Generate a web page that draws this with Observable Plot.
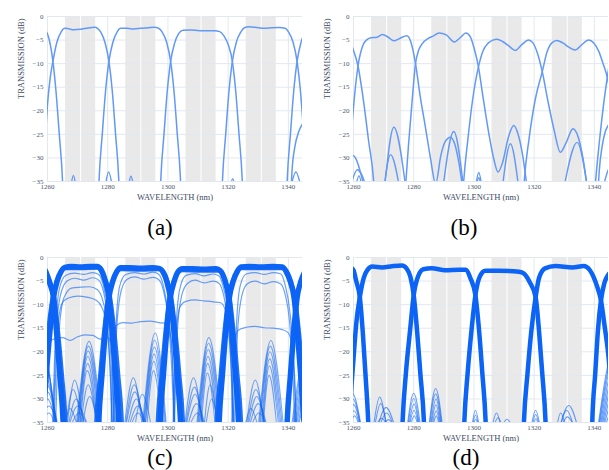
<!DOCTYPE html>
<html>
<head>
<meta charset="utf-8">
<script src="https://cdn.jsdelivr.net/npm/d3@7"></script>
<script src="https://cdn.jsdelivr.net/npm/@observablehq/plot@0.6"></script>
<style>
  html, body { margin: 0; padding: 0; background: #fff; }
  body { width: 609px; height: 470px; position: relative; overflow: hidden; font-family: "Liberation Serif", "DejaVu Serif", serif; }
  .panel { position: absolute; }
  .panel svg { display: block; }
  .cap { position: absolute; font-size: 23px; line-height: 1; color: #000; transform: translateX(-50%); white-space: nowrap; }
</style>
</head>
<body>
<div id="pa" class="panel" style="left:0px;top:0px"></div>
<div id="pb" class="panel" style="left:306px;top:0px"></div>
<div id="pc" class="panel" style="left:0px;top:241px"></div>
<div id="pd" class="panel" style="left:306px;top:241px"></div>
<div class="cap" style="left:160px;top:216px">(a)</div>
<div class="cap" style="left:464px;top:216px">(b)</div>
<div class="cap" style="left:160px;top:446px">(c)</div>
<div class="cap" style="left:466px;top:446px">(d)</div>
<script>
// ---------- axes / annotation data ----------
const xTicks = [1260, 1280, 1300, 1320, 1340];
const yTicks = [0, -5, -10, -15, -20, -25, -30, -35];
const bands = [[1266, 1276], [1286, 1296], [1306, 1316], [1326, 1336]];
const bandCenters = [1271, 1291, 1311, 1331];
const xLabel = "WAVELENGTH (nm)";
const yLabel = "TRANSMISSION (dB)";

// ---------- panel (a): [wavelength nm, transmission dB] ----------
const a_prev = [[1255,-2.3],[1257.5,-2.5],[1259.2,-3.0],[1260,-3.7],[1261,-6.2],[1261.8,-9.5],[1262.8,-15.7],[1263.9,-24.9],[1265,-35],[1265.4,-42]];
const a_ch1 = [[1258.3,-42],[1258.8,-33],[1260,-18.7],[1260.9,-13],[1261.8,-9.5],[1263.1,-5.5],[1264.5,-3.3],[1265.8,-2.5],[1267,-2.6],[1268.7,-2.8],[1271,-2.7],[1273.5,-2.45],[1275.7,-2.3],[1276.6,-2.5],[1277.7,-3.3],[1279.1,-5.5],[1280.4,-9.5],[1281.5,-15.7],[1282.6,-24.9],[1283.7,-35],[1284.1,-42]];
const a_ch2 = [[1276.7,-42],[1277.1,-35],[1278.2,-24.9],[1279.3,-15.7],[1280.4,-9.5],[1281.7,-5.5],[1283.1,-3.3],[1284.3,-2.5],[1286.5,-2.5],[1288.7,-2.65],[1291,-2.5],[1293.5,-2.4],[1295.5,-2.3],[1296.9,-2.5],[1298.1,-3.3],[1299.6,-5.5],[1300.9,-9.5],[1302,-15.7],[1303.1,-24.9],[1304.2,-35],[1304.6,-42]];
const a_ch3 = [[1297.2,-42],[1297.6,-35],[1298.7,-24.9],[1299.8,-15.7],[1300.9,-9.5],[1302.2,-5.7],[1303.6,-3.6],[1305,-2.9],[1307.5,-2.85],[1310.5,-3.0],[1313,-3.0],[1315.5,-3.0],[1317.2,-3.2],[1318.6,-4.1],[1320.1,-6.1],[1321.4,-9.5],[1322.5,-15.7],[1323.6,-24.9],[1324.7,-35],[1325.1,-42]];
const a_ch4 = [[1317.7,-42],[1318.1,-35],[1319.2,-24.9],[1320.3,-15.7],[1321.4,-9.5],[1322.7,-5.5],[1324.2,-3.3],[1325.4,-2.4],[1327,-2.2],[1329,-2.3],[1332,-2.5],[1334.5,-2.4],[1337,-2.35],[1338.9,-2.5],[1340.1,-3.3],[1341.6,-5.5],[1342.9,-9.5],[1344,-15.7],[1345.1,-24.9],[1346.2,-35]];
const a_next = [[1339.2,-42],[1339.6,-35],[1340.7,-24.9],[1341.8,-15.7],[1342.9,-9.5],[1344.2,-5.5],[1345.5,-3.3]];
const a_tail = [[1340.6,-42],[1341.2,-33],[1342.2,-27.5],[1343.4,-24.5],[1344.7,-22.8],[1346,-22]];
// side lobes: [start nm, peak nm, peak dB, end nm]
const a_lobes = [[1267.8,1268.6,-33.7,1269.4],[1279.2,1280.3,-33,1281.5],[1286.9,1287.7,-33.9,1288.6],[1320.8,1321.5,-34.4,1322.2],[1340.9,1342.5,-33,1344.1]];

// ---------- panel (b) ----------
const b_prev = [[1255,-3.8],[1257.5,-4.6],[1259,-5.6],[1260,-7.2],[1261.5,-10.5],[1263.3,-17.8],[1265,-26.3],[1266.7,-35],[1267.2,-40]];
const b_ch1 = [[1258.3,-40],[1259,-28],[1260,-19.3],[1261.5,-10.5],[1263.2,-6],[1264.5,-4.9],[1265.8,-4.5],[1267.8,-4.4],[1269.6,-3.8],[1271.5,-4.4],[1273.4,-5.15],[1275.5,-4.6],[1277.7,-4.1],[1279,-5.3],[1280.6,-10],[1282.2,-17.1],[1283.9,-23.5],[1285.5,-29.8],[1287.3,-35.5],[1289,-29.5],[1290.5,-26.5],[1292.2,-25.6],[1293.6,-27],[1295,-31],[1296.2,-36]];
const b_ch2 = [[1276.8,-40],[1277.4,-35],[1278.3,-27],[1279.4,-18.5],[1280.6,-10],[1281.6,-7.2],[1282.8,-5.8],[1284.7,-4.7],[1286.6,-4.1],[1288.4,-3.5],[1290.8,-3.9],[1293.5,-5.4],[1295.6,-4.4],[1297.3,-3.5],[1298.8,-4.3],[1300.1,-6.8],[1301.5,-10.7],[1303,-17],[1305,-25],[1306.7,-30.5],[1308,-33],[1309.5,-31],[1311.5,-25.5],[1313.2,-23.1],[1314.6,-24.8],[1316.2,-29.5],[1317.6,-36]];
const b_ch3 = [[1296.1,-40],[1296.6,-35],[1298,-26],[1299.6,-17.5],[1301.5,-10.7],[1303,-7.3],[1304.8,-5.6],[1306.3,-5.0],[1307.7,-4.8],[1309.5,-5.3],[1311.5,-6.2],[1313.7,-7.2],[1316,-5.9],[1318.1,-5.0],[1319.6,-5.6],[1321.1,-7.8],[1322.7,-11.7],[1324.6,-18],[1326.6,-24],[1328.7,-28.8],[1330.6,-26.8],[1332.9,-23.8],[1334.6,-25.5],[1336.2,-30],[1337.6,-36]];
const b_ch4 = [[1316.2,-40],[1316.7,-35],[1318.3,-26],[1320.4,-17.5],[1322.7,-11.7],[1324.3,-7.5],[1325.9,-5.6],[1327.5,-5.1],[1329.5,-5.6],[1331.5,-6.5],[1333.6,-7.1],[1335.8,-6.0],[1338.1,-5.0],[1339.8,-5.6],[1341.4,-7.3],[1342.9,-10],[1344.3,-12.9],[1345.5,-17]];
const b_next = [[1339.8,-40],[1340.4,-35],[1341.6,-27],[1343,-19],[1344.3,-12.9],[1345.5,-8]];
const b_tail = [[1341,-40],[1341.6,-33],[1342.6,-27.5],[1343.6,-24.5],[1344.7,-23],[1346,-22]];
const b_lobes = [[1270.4,1273.4,-23.5,1277.3],[1270.2,1272.3,-29.3,1275.2],[1289.8,1293.3,-24.4,1296.5],[1309.5,1312.1,-27,1314.8],[1330,1334.3,-26.7,1337.6],[1257.5,1259.8,-29.5,1263.5],[1259,1261.3,-32.5,1264.2],[1260.8,1261.8,-33.8,1262.8],[1300.6,1301.6,-33.1,1302.6],[1300.8,1301.6,-34.2,1302.4],[1343,1345.5,-31.8,1348]];

// ---------- panel (c): thick bundles + spread devices ----------
const c_prev = [[1255,-1.8],[1258,-2.0],[1259.3,-2.8],[1260.6,-5.2],[1262,-8.5],[1263,-15.7],[1264.1,-24.9],[1265.2,-35],[1265.6,-42]];
const c_ch1 = [[1258.2,-42],[1258.6,-35],[1259.6,-24.9],[1260.8,-15.7],[1262,-8.5],[1263.2,-5],[1264.5,-3],[1265.8,-2.1],[1268,-1.9],[1271,-2.0],[1274,-1.9],[1276.5,-1.9],[1277.8,-2.6],[1279.2,-5],[1280.4,-8.5],[1281.5,-15.7],[1282.6,-24.9],[1283.7,-35],[1284.1,-42]];
const c_ch2 = [[1276.6,-42],[1277,-35],[1278.1,-24.9],[1279.2,-15.7],[1280.4,-8.5],[1281.7,-5],[1283,-3],[1284.3,-2.2],[1287,-2.2],[1291,-2.3],[1295,-2.2],[1297,-2.3],[1298.3,-3],[1299.6,-5],[1300.8,-8.5],[1302,-15.7],[1303.1,-24.9],[1304.2,-35],[1304.6,-42]];
const c_ch3 = [[1297,-42],[1297.4,-35],[1298.5,-24.9],[1299.6,-15.7],[1300.8,-8.5],[1302.1,-5],[1303.4,-3],[1304.8,-2.4],[1308,-2.4],[1312,-2.5],[1316,-2.4],[1317.4,-2.8],[1318.8,-4.6],[1320.2,-8.5],[1321.3,-15.7],[1322.4,-24.9],[1323.5,-35],[1323.9,-42]];
const c_ch4 = [[1316.6,-42],[1317,-35],[1318.1,-24.9],[1319.2,-15.7],[1320.4,-8.5],[1321.7,-5],[1323,-3],[1324.3,-2.0],[1327,-1.9],[1331,-2.0],[1335,-1.9],[1338,-2.0],[1339.3,-3],[1340.6,-5],[1341.9,-8.5],[1343,-15.7],[1344.1,-24.9],[1345.2,-35]];
const c_next = [[1339.2,-42],[1339.6,-35],[1340.7,-24.9],[1341.8,-15.7],[1342.9,-8.5],[1344.2,-5],[1345.5,-3]];
// wider-skirt devices of the same bundles
const c_prevw = [[1255,-2.2],[1258,-2.4],[1259.6,-3],[1261,-5],[1262.4,-8.5],[1263.7,-15.7],[1265,-24.9],[1266.2,-35],[1266.6,-42]];
const c_ch1w = [[1257,-42],[1257.4,-35],[1258.6,-24.9],[1260,-15.7],[1261.5,-8.5],[1262.9,-5],[1264.3,-3],[1265.8,-2.4],[1271,-2.4],[1276.5,-2.3],[1278,-3],[1279.6,-5],[1281,-8.5],[1282.4,-15.7],[1283.7,-24.9],[1284.9,-35],[1285.3,-42]];
const c_ch2w = [[1275.6,-42],[1276,-35],[1277.3,-24.9],[1278.6,-15.7],[1280,-8.5],[1281.4,-5],[1282.8,-3],[1284.3,-2.6],[1291,-2.7],[1297.2,-2.6],[1298.6,-3],[1300,-5],[1301.3,-8.5],[1302.7,-15.7],[1304,-24.9],[1305.2,-35],[1305.6,-42]];
const c_ch3w = [[1296,-42],[1296.4,-35],[1297.7,-24.9],[1299,-15.7],[1300.3,-8.5],[1301.8,-5],[1303.2,-3.2],[1304.8,-2.8],[1311,-2.9],[1317.4,-2.9],[1318.9,-4.6],[1320.7,-8.5],[1322,-15.7],[1323.3,-24.9],[1324.5,-35],[1324.9,-42]];
const c_ch4w = [[1315.6,-42],[1316,-35],[1317.3,-24.9],[1318.6,-15.7],[1319.9,-8.5],[1321.3,-5],[1322.8,-3],[1324.3,-2.4],[1331,-2.4],[1338.2,-2.4],[1339.6,-3],[1341,-5],[1342.4,-8.5],[1343.7,-15.7],[1345,-24.9]];
const c_low1a = [[1261.5,-40],[1262.8,-14],[1264,-6.5],[1266,-3.8],[1269,-3.3],[1272,-3.6],[1275,-3.2],[1277,-3.6],[1278.6,-6],[1280,-11],[1281.5,-22],[1282.6,-40]];
const c_low1b = [[1261.8,-40],[1263,-15],[1264.3,-8],[1266.5,-5],[1269,-4.4],[1272,-4.8],[1275,-4.3],[1277,-4.8],[1278.5,-7],[1280,-12.5],[1281.3,-24],[1282.3,-40]];
const c_low1c = [[1262.5,-40],[1263.8,-16],[1265.5,-8.5],[1268,-6.5],[1271,-6.3],[1274,-6.2],[1276.5,-6.8],[1278.3,-9],[1279.8,-14],[1281,-26],[1281.8,-40]];
const c_low1d = [[1262,-40],[1263.5,-14],[1265,-9.5],[1267,-8.6],[1270,-8.2],[1273,-8.4],[1276,-9],[1278,-10.5],[1279.5,-14],[1280.8,-24],[1281.6,-40]];
const c_low1e = [[1259,-20],[1260.5,-18],[1262.5,-17.2],[1265,-17],[1267.5,-17.6],[1270,-16.8],[1272.5,-16.4],[1275,-16.5],[1277.5,-17.3],[1279.5,-16.8],[1281,-18],[1282,-24],[1282.8,-40]];
const c_low2a = [[1281.5,-40],[1282.8,-14],[1284,-6],[1286,-3.6],[1289,-3.2],[1292,-3.5],[1295,-3.1],[1297,-3.6],[1298.5,-6],[1300,-11.5],[1301.5,-22],[1302.5,-40]];
const c_low2b = [[1281.8,-40],[1283,-15],[1284.5,-7],[1286.5,-4.6],[1289,-4.1],[1292,-4.6],[1295,-4.2],[1297,-4.7],[1298.5,-7],[1300,-12.5],[1301.3,-24],[1302.3,-40]];
const c_low2c = [[1281,-40],[1281.8,-20],[1282.8,-14.5],[1285,-13.8],[1288,-13.9],[1291,-13.6],[1294,-13.5],[1297,-13.8],[1299.5,-14],[1300.7,-16],[1301.6,-22],[1302.3,-40]];
const c_low3a = [[1301.5,-40],[1302.8,-14],[1304,-6.5],[1306,-3.8],[1309,-3.4],[1312,-3.9],[1315,-3.5],[1317,-3.9],[1318.5,-6.5],[1320,-12],[1321.3,-24],[1322.2,-40]];
const c_low3b = [[1302,-40],[1303.2,-15],[1304.6,-8],[1306.5,-5.5],[1309,-4.8],[1312,-5.4],[1315,-5],[1317,-5.5],[1318.5,-8],[1319.8,-13],[1321,-24],[1321.8,-40]];
const c_low3c = [[1301.8,-40],[1302.8,-16],[1304,-10.5],[1306,-9.3],[1309,-9],[1312,-9.2],[1315,-9.4],[1317.5,-9.6],[1319,-11],[1320.3,-16],[1321.2,-26],[1321.8,-40]];
const c_low4a = [[1321.5,-40],[1322.8,-14],[1324,-6],[1326,-3.5],[1329,-3.2],[1332,-3.6],[1335,-3.2],[1337.5,-3.5],[1339,-6],[1340.5,-11.5],[1341.8,-22],[1342.7,-40]];
const c_low4b = [[1322,-40],[1323.2,-15],[1324.6,-8],[1326.5,-5.5],[1329,-5],[1332,-5.6],[1335,-5.1],[1337.5,-5.6],[1339,-8],[1340.3,-13],[1341.5,-24],[1342.3,-40]];
const c_low4c = [[1321,-40],[1322,-20],[1323.2,-15.5],[1326,-14.8],[1329,-14.6],[1332,-14.9],[1335,-15],[1338,-15.3],[1340,-16],[1341.2,-19],[1342.3,-28],[1342.9,-40]];
const c_lobes = [
  [1255,1259,-20,1262.5],[1255,1259.2,-22,1262.8],[1255.5,1259.5,-23.5,1263],[1256,1259.5,-25.5,1263.2],[1256,1259.8,-27,1263.5],[1256.5,1260,-28.5,1263.3],[1257,1260,-30,1263],[1257,1260.5,-31.5,1263.6],[1257.5,1260.5,-33,1262.8],
  [1269.5,1273.8,-17.8,1278],[1269.8,1273.6,-18.8,1277.8],[1270,1273.5,-19.8,1277.5],[1270.2,1273.4,-21,1277.2],[1270.5,1273.3,-22.5,1276.8],[1270.8,1273.2,-24,1276.5],[1266.5,1269,-26,1272],[1266,1268.5,-28,1271.5],[1266.8,1269.5,-30,1272.5],[1267,1270,-31.5,1273.5],[1267.5,1270.5,-33,1273.5],[1265.5,1267.5,-32,1270],[1271,1273.5,-27,1276.5],[1271.5,1274,-29.5,1276.8],
  [1291.5,1295.8,-16,1299.5],[1291.8,1295.6,-17.5,1299.3],[1292,1295.5,-19,1299],[1292.3,1295.4,-20.5,1298.7],[1292.5,1295.3,-22,1298.4],[1293,1295.2,-24,1298],[1285.5,1288.5,-25.5,1291.5],[1285.8,1288.8,-27,1292],[1286,1289,-28.5,1292.2],[1286.5,1289.5,-30,1292.5],[1287,1290,-31.5,1293],[1287.5,1290,-33,1292.8],[1289,1291.5,-29,1294.5],
  [1309.5,1313.6,-17,1317.8],[1309.8,1313.5,-18.2,1317.5],[1310,1313.4,-19.5,1317.2],[1310.3,1313.3,-21,1316.8],[1310.6,1313.2,-22.5,1316.4],[1311,1313.1,-24.5,1315.8],[1305.5,1308.5,-25.5,1311.5],[1305.8,1308.8,-27.5,1311.8],[1306,1309,-29,1312],[1306.5,1309.5,-31,1312.5],[1307,1309.8,-33,1312.5],[1312,1314,-27,1316.5],[1312.5,1314.5,-30,1316.8],
  [1330,1334.2,-17.6,1338.4],[1330.3,1334,-18.8,1338],[1330.6,1333.9,-20,1337.6],[1331,1333.8,-21.5,1337.2],[1331.3,1333.7,-23,1336.8],[1331.6,1333.6,-25,1336.2],[1326,1329,-26,1332],[1326.3,1329.2,-28,1332.3],[1326.6,1329.5,-29.5,1332.5],[1327,1330,-31,1333],[1327.5,1330.2,-33,1333],[1325.5,1327.5,-32,1330],
  [1341,1346.5,-19,1351],[1341.3,1346.5,-20.5,1351],[1341.6,1346.5,-22,1351],[1342,1346.5,-23.5,1351],[1342.3,1346.5,-25,1351],[1342.6,1346.5,-26.5,1351],[1343,1346.5,-28,1351],[1343.2,1346.5,-30,1351]
];

// ---------- panel (d) ----------
const d_prev = [[1256,-1.8],[1258.5,-1.9],[1259.3,-2.2],[1260,-2.7],[1260.9,-5],[1262.1,-8.4],[1263.1,-16],[1264,-25],[1264.9,-35],[1265.3,-42]];
const d_ch1 = [[1258.3,-42],[1258.9,-32],[1260,-21.5],[1261,-13.5],[1262.1,-8.4],[1263.4,-4.3],[1264.8,-2.5],[1266.2,-1.9],[1269.5,-2.1],[1272.8,-1.85],[1276.1,-1.7],[1277.6,-2.3],[1278.9,-4.1],[1280,-8],[1281.1,-15.4],[1282.2,-24.6],[1283.4,-35],[1283.8,-42]];
const d_ch2 = [[1275.9,-42],[1276.3,-35],[1277.4,-24.6],[1278.8,-15.4],[1280,-8],[1281.4,-4.1],[1283.2,-2.5],[1286,-2.3],[1290.5,-2.7],[1295,-2.6],[1297.2,-2.6],[1298.9,-4.5],[1300.5,-8],[1301.7,-15.4],[1302.8,-24.6],[1303.9,-35],[1304.3,-42]];
const d_ch3 = [[1296.4,-42],[1296.8,-35],[1297.9,-24.6],[1299.2,-15.4],[1300.5,-8],[1301.9,-4.1],[1303.8,-2.8],[1308.3,-2.8],[1315,-3.0],[1316.6,-3.4],[1318.5,-5.2],[1320.5,-8.4],[1321.6,-15.4],[1322.7,-24.6],[1323.8,-35],[1324.2,-42]];
const d_ch4 = [[1316.2,-42],[1316.6,-35],[1317.8,-24.6],[1319.1,-15.4],[1320.5,-8.4],[1321.6,-4.4],[1323.6,-2.3],[1327.1,-1.8],[1332.7,-2.1],[1336.5,-1.8],[1338.4,-2.6],[1339.8,-4.2],[1341,-6.3],[1342.2,-9.1],[1343.4,-14.5],[1344.7,-21],[1345.8,-30]];
const d_next = [[1339,-42],[1339.3,-35],[1340.3,-24.6],[1341.2,-15.4],[1342.2,-9.1],[1343.3,-5.5],[1344.7,-3.6],[1346,-2.8]];
const d_lobes = [
  [1256.5,1259.6,-28.8,1262.6],[1257,1259.8,-30,1262.5],[1257.5,1260,-31.2,1262.4],[1258,1260.2,-32.5,1262.2],[1258.5,1260.4,-33.6,1262],
  [1266.6,1268.7,-29.6,1270.9],[1267,1269,-31,1271.2],[1268,1270.8,-31.8,1273.8],[1268.5,1271,-33,1273.5],[1267.3,1269.3,-34.1,1271.5],[1269.5,1271.6,-34.4,1273.8],
  [1277.8,1280,-28.8,1282.3],[1278,1280,-29.9,1282],[1278.3,1280.1,-31.1,1281.8],[1278.5,1280.1,-32.4,1281.7],[1278.8,1280.2,-33.6,1281.5],
  [1285,1287.3,-27.8,1289.6],[1285.2,1287.3,-28.9,1289.4],[1285.5,1287.4,-30,1289.2],[1285.7,1287.4,-31.3,1289],[1286,1287.5,-32.5,1288.8],[1286.3,1287.5,-33.6,1288.6],
  [1299.3,1300.5,-32.4,1301.8],[1299.5,1300.5,-33.4,1301.6],[1299.7,1300.6,-34.3,1301.5],
  [1306,1307.5,-33,1309],[1306.5,1308,-34,1309.5],[1309.2,1311,-34.3,1312.8],
  [1319,1320.5,-32.4,1322],[1319.3,1320.5,-33.3,1321.8],[1319.6,1320.6,-34.2,1321.6],
  [1328.5,1331.5,-31.4,1334.5],[1328.6,1330.8,-32.4,1333.2],[1327.5,1328.8,-33,1330.5],[1329,1331,-33.8,1333.5],
  [1341.2,1346.5,-19.8,1351],[1341.4,1346.5,-21,1351],[1341.6,1346.5,-22.3,1351],[1341.9,1346.5,-23.7,1351],[1342.2,1346.5,-25.2,1351],[1342.5,1346.5,-26.8,1351],[1342.8,1346.5,-28.5,1351],[1343.1,1346.5,-30.2,1351],[1343.5,1346.5,-32,1351]
];

// ---------- helpers ----------
const BLUE_LIGHT = "#6399f6";
const BLUE = "#0b64f6";
const TICK = "#4a5870";
const TITLE = "#3d4b64";

function toRows(named) {
  return Object.entries(named).flatMap(([id, pts]) => pts.map(([x, y]) => ({x, y, id})));
}
function lobeRows(lobes, tag) {
  return lobes.flatMap(([s, p, v, e], i) => [
    {x: s, y: -36, id: tag + i}, {x: p, y: v, id: tag + i}, {x: e, y: -36, id: tag + i}
  ]);
}
function lineMark(rows, stroke, strokeWidth, opacity = 1) {
  return Plot.line(rows, {x: "x", y: "y", z: "id", stroke, strokeWidth, strokeOpacity: opacity,
    curve: "monotone-x", clip: true, strokeLinejoin: "round", strokeLinecap: "round"});
}

function panel(el, width, marginLeft, marginRight, layers) {
  const chart = Plot.plot({
    width, height: 205,
    marginLeft, marginRight, marginTop: 16, marginBottom: 24,
    x: {domain: [1260, 1344.7], label: null},
    y: {domain: [-35, 0], label: null},
    style: {fontFamily: "'Liberation Serif', serif", fontSize: "7px", color: TICK, background: "transparent", overflow: "visible"},
    marks: [
      Plot.rect(bands, {x1: d => d[0], x2: d => d[1], fill: "#e9e9e9"}),
      Plot.gridY(yTicks, {stroke: "#e3e8ef", strokeOpacity: 1}),
      Plot.gridX(xTicks, {stroke: "#e3e8ef", strokeOpacity: 1}),
      Plot.ruleX(bandCenters, {stroke: "#ffffff", strokeWidth: 1}),
      Plot.axisX(xTicks, {tickSize: 0, tickPadding: 3, fontSize: 7, label: null, tickFormat: d => String(d)}),
      Plot.axisY(yTicks, {tickSize: 0, tickPadding: 4, fontSize: 7, label: null}),
      ...layers,
      Plot.text([xLabel], {frameAnchor: "bottom", dy: 18, fontSize: 8.5, fill: TITLE}),
      Plot.text([yLabel], {frameAnchor: "left", rotate: -90, dx: -26, fontSize: 8.5, fill: TITLE})
    ]
  });
  document.getElementById(el).appendChild(chart);
}

// (a)
panel("pa", 305, 47, 3, [
  lineMark(lobeRows(a_lobes, "al"), BLUE_LIGHT, 1.4),
  lineMark(toRows({a_prev, a_ch1, a_ch2, a_ch3, a_ch4, a_next, a_tail}), BLUE_LIGHT, 1.5)
]);
// (b)
panel("pb", 303, 47, 1, [
  lineMark(lobeRows(b_lobes, "bl"), BLUE_LIGHT, 1.4),
  lineMark(toRows({b_prev, b_ch1, b_ch2, b_ch3, b_ch4, b_next, b_tail}), BLUE_LIGHT, 1.5)
]);
// (c)
panel("pc", 305, 47, 3, [
  lineMark(lobeRows(c_lobes, "cl"), BLUE, 1.1, 0.55),
  lineMark(toRows({c_low1a, c_low1b, c_low1c, c_low1d, c_low1e, c_low2a, c_low2b, c_low2c, c_low3a, c_low3b, c_low3c, c_low4a, c_low4b, c_low4c}), BLUE, 1.2, 0.6),
  lineMark(toRows({c_prevw, c_ch1w, c_ch2w, c_ch3w, c_ch4w}), BLUE, 3, 0.9),
  lineMark(toRows({c_prev, c_ch1, c_ch2, c_ch3, c_ch4, c_next}), BLUE, 5.5)
]);
// (d)
panel("pd", 303, 47, 1, [
  lineMark(lobeRows(d_lobes, "dl"), BLUE, 1.1, 0.6),
  lineMark(toRows({d_prev, d_ch1, d_ch2, d_ch3, d_ch4, d_next}), BLUE, 4.5)
]);
</script>
</body>
</html>
